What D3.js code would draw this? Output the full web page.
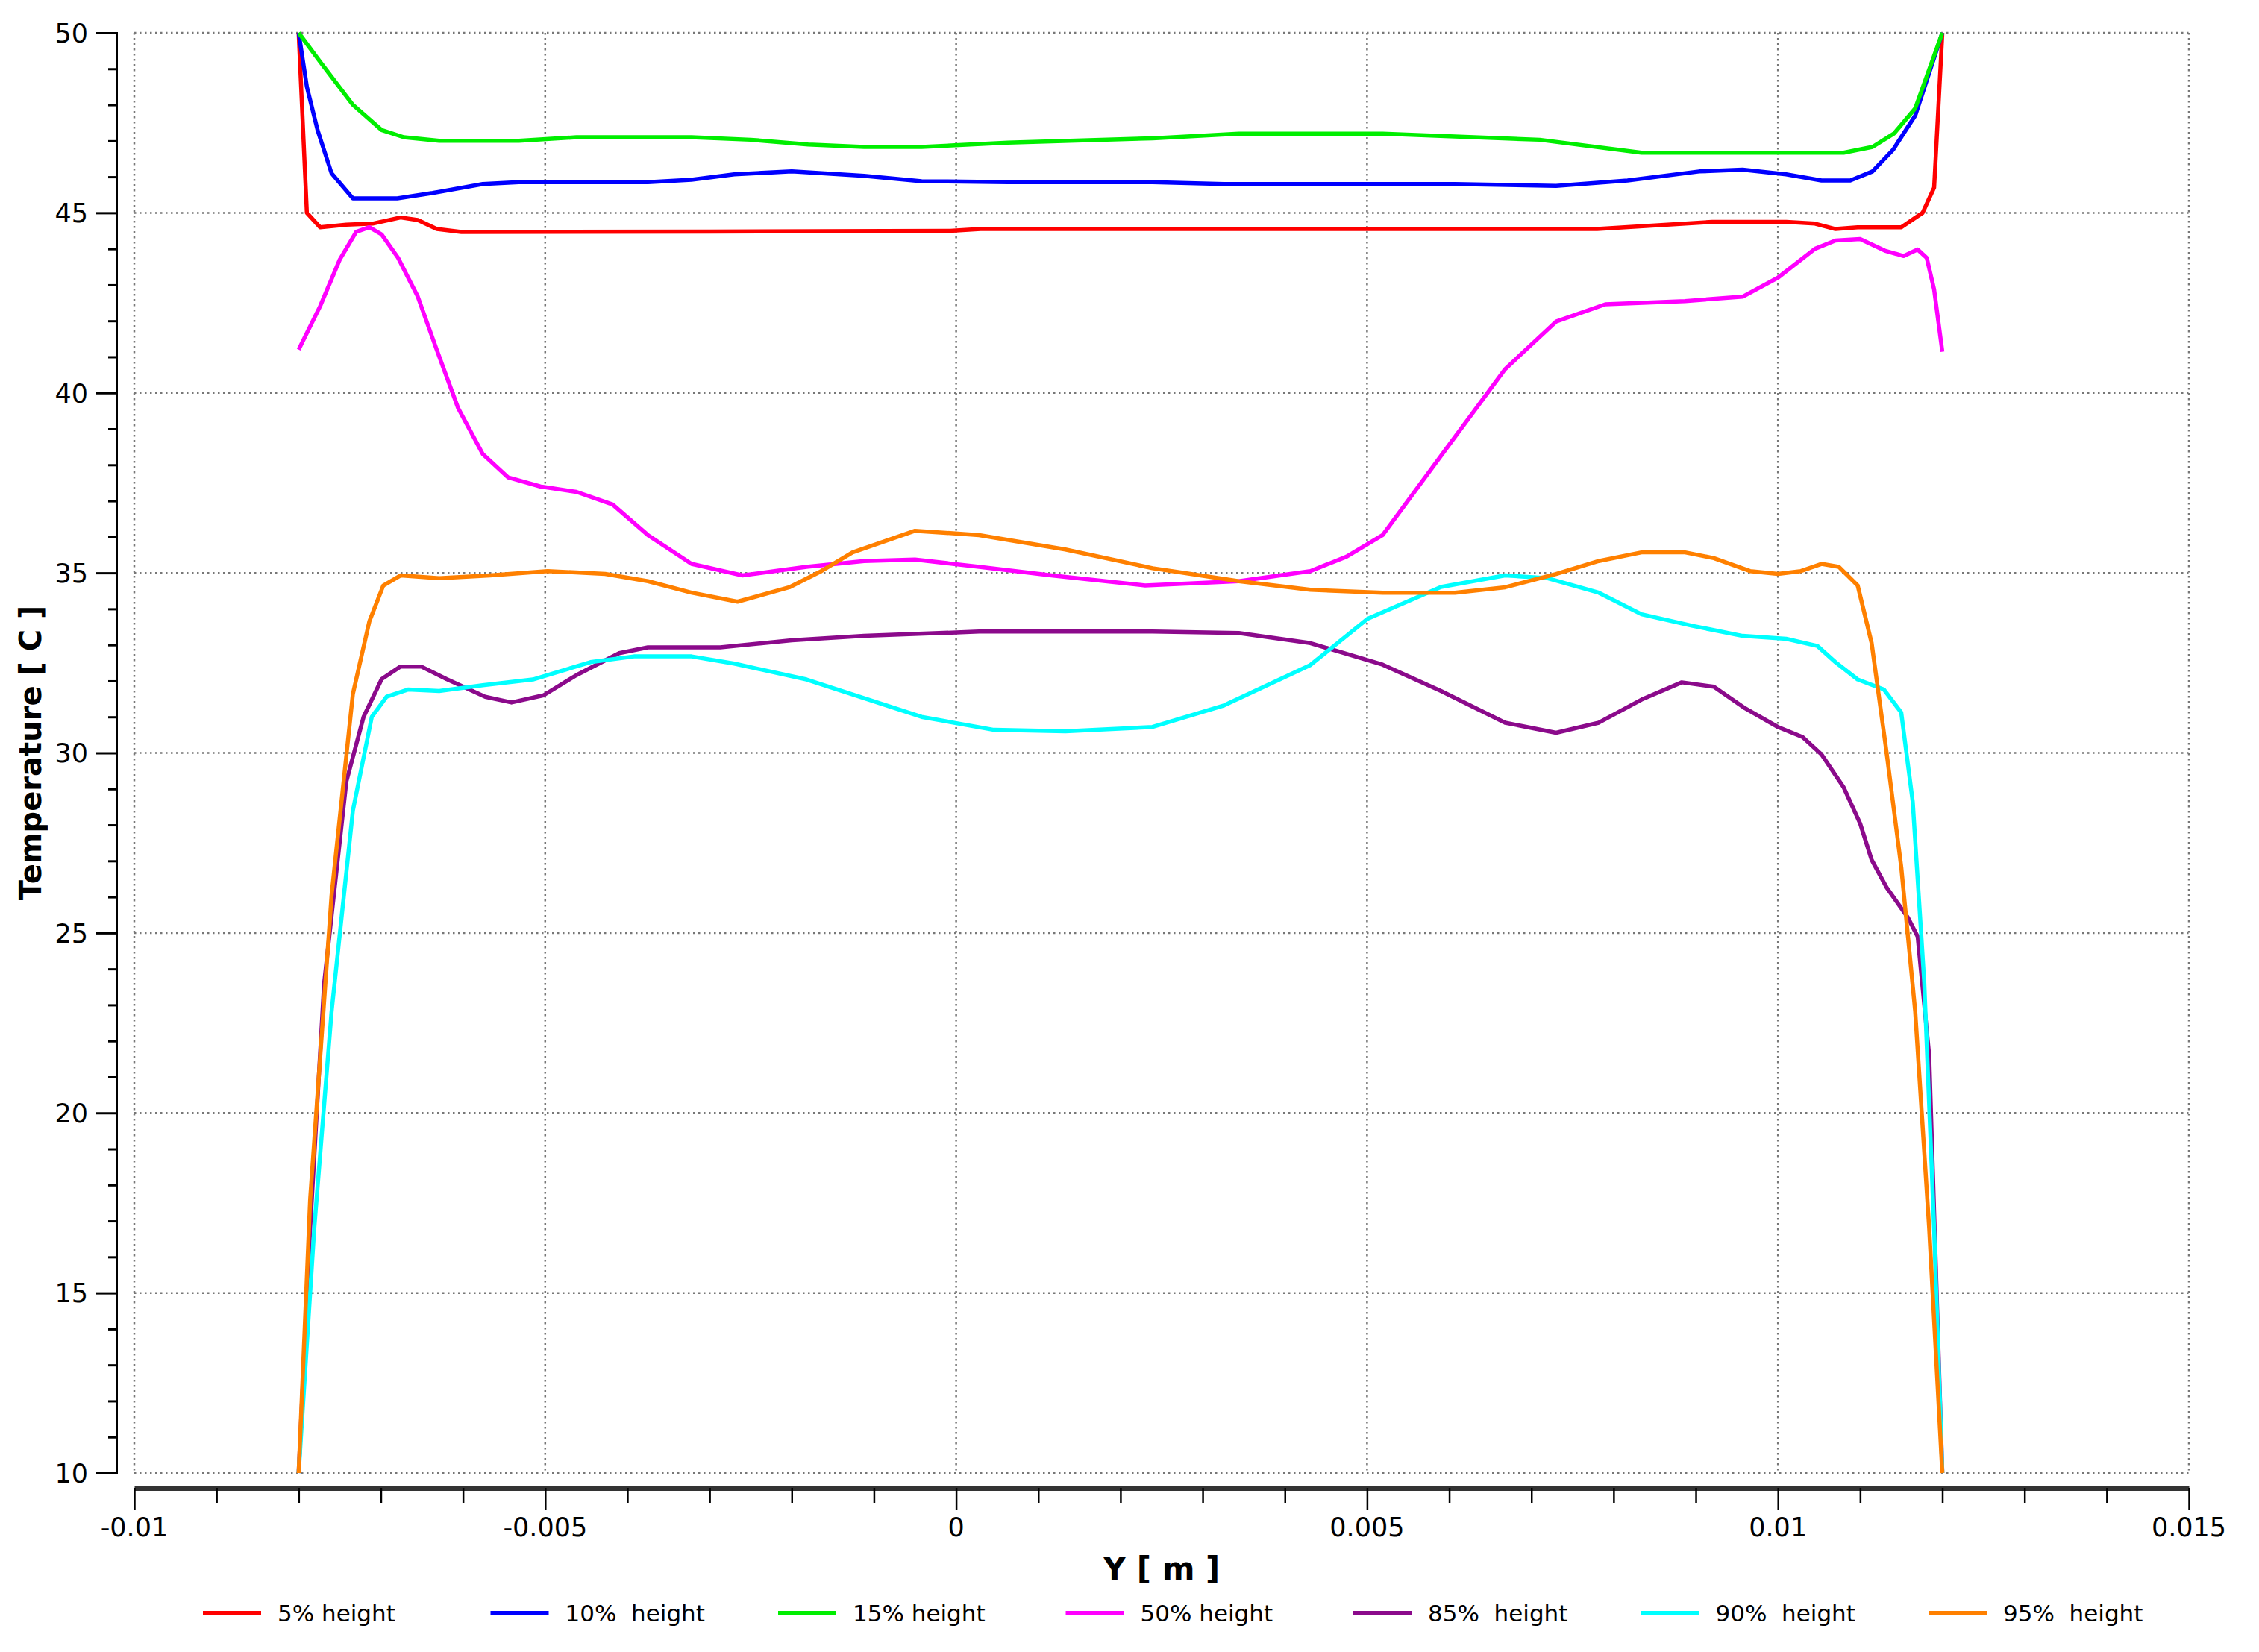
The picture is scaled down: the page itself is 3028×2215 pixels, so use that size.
<!DOCTYPE html>
<html>
<head>
<meta charset="utf-8">
<script src="https://cdn.jsdelivr.net/npm/d3@7"></script>
<style>
  body { margin: 0; background: #fff; }
  text { font-family: "DejaVu Sans", sans-serif; }
</style>
</head>
<body>
<div class="chart"></div>
<script>
// x values in mm (converted to m below), temperature in C
var red = [[-8,50],[-7.9,45.0],[-7.74,44.6],[-7.42,44.67],[-7.1,44.7],[-6.76,44.87],[-6.55,44.8],[-6.32,44.55],[-6.02,44.47],[-3,44.48],[-0.07,44.5],[0.3,44.55],[4,44.55],[7.8,44.55],[9.2,44.75],[10.1,44.75],[10.45,44.7],[10.7,44.55],[10.97,44.6],[11.5,44.6],[11.76,45.0],[11.9,45.7],[12,50]];
var blue = [[-8,50],[-7.9,48.5],[-7.77,47.3],[-7.6,46.1],[-7.34,45.4],[-6.8,45.4],[-6.37,45.55],[-5.76,45.8],[-5.32,45.85],[-3.75,45.85],[-3.22,45.92],[-2.7,46.07],[-2.0,46.15],[-1.12,46.03],[-0.42,45.88],[0.63,45.85],[2.39,45.85],[3.26,45.8],[6.07,45.8],[7.3,45.75],[8.17,45.9],[9.04,46.15],[9.57,46.2],[10.1,46.07],[10.53,45.9],[10.88,45.9],[11.15,46.15],[11.4,46.75],[11.67,47.7],[12,50]];
var green = [[-8,50],[-7.74,49.2],[-7.34,48.0],[-6.99,47.3],[-6.72,47.1],[-6.29,47.0],[-5.32,47.0],[-4.62,47.1],[-3.22,47.1],[-2.5,47.03],[-1.8,46.9],[-1.12,46.83],[-0.42,46.83],[0.63,46.95],[2.39,47.07],[3.44,47.2],[5.19,47.2],[7.1,47.03],[8.34,46.67],[10.8,46.67],[11.15,46.83],[11.41,47.2],[11.67,47.9],[12,50]];
var magenta = [[-8,41.2],[-7.74,42.4],[-7.5,43.7],[-7.3,44.47],[-7.14,44.6],[-6.99,44.4],[-6.79,43.75],[-6.55,42.67],[-6.32,41.2],[-6.06,39.58],[-5.76,38.3],[-5.45,37.65],[-5.06,37.4],[-4.62,37.25],[-4.18,36.9],[-3.75,36.05],[-3.22,35.25],[-2.6,34.93],[-1.82,35.17],[-1.12,35.33],[-0.5,35.37],[0.28,35.17],[1.16,34.93],[2.3,34.65],[3.44,34.77],[4.31,35.05],[4.75,35.45],[5.19,36.05],[5.9,38.25],[6.68,40.66],[7.3,41.98],[7.9,42.46],[8.87,42.55],[9.57,42.67],[10.0,43.2],[10.45,44.0],[10.7,44.23],[11.0,44.27],[11.3,43.95],[11.53,43.8],[11.7,43.98],[11.81,43.75],[11.9,42.87],[12,41.14]];
var purple = [[-8,10],[-7.86,16.8],[-7.69,23.6],[-7.42,29.2],[-7.21,31.0],[-6.99,32.05],[-6.76,32.4],[-6.51,32.4],[-6.2,32.05],[-5.73,31.56],[-5.41,31.4],[-5.02,31.6],[-4.62,32.16],[-4.1,32.77],[-3.75,32.93],[-2.87,32.93],[-2.0,33.13],[-1.12,33.25],[0.28,33.37],[2.39,33.37],[3.44,33.33],[4.31,33.05],[5.19,32.45],[5.9,31.72],[6.68,30.84],[7.3,30.56],[7.82,30.84],[8.34,31.48],[8.83,31.96],[9.22,31.84],[9.6,31.24],[10.0,30.72],[10.3,30.44],[10.53,29.96],[10.8,29.04],[11.0,28.04],[11.14,27.03],[11.32,26.27],[11.58,25.43],[11.7,24.9],[11.84,21.6],[12,10]];
var cyan = [[-8,10],[-7.81,16.8],[-7.6,22.8],[-7.34,28.4],[-7.11,31.0],[-6.93,31.56],[-6.67,31.76],[-6.29,31.72],[-5.76,31.88],[-5.15,32.04],[-4.45,32.52],[-3.92,32.68],[-3.22,32.68],[-2.7,32.48],[-1.82,32.04],[-1.12,31.52],[-0.42,31.0],[0.46,30.64],[1.33,30.6],[2.39,30.72],[3.26,31.32],[4.31,32.44],[5.01,33.73],[5.9,34.61],[6.68,34.93],[7.2,34.85],[7.82,34.45],[8.34,33.85],[8.96,33.53],[9.57,33.25],[10.1,33.17],[10.48,32.97],[10.7,32.52],[10.97,32.04],[11.29,31.76],[11.5,31.12],[11.64,28.64],[11.78,23.63],[11.9,16.8],[12,10]];
var orange = [[-8,10],[-7.86,17.6],[-7.6,26.03],[-7.34,31.64],[-7.14,33.65],[-6.97,34.65],[-6.76,34.93],[-6.29,34.85],[-5.67,34.93],[-4.97,35.05],[-4.27,34.97],[-3.75,34.77],[-3.22,34.45],[-2.66,34.2],[-2.03,34.6],[-1.64,35.05],[-1.26,35.57],[-0.5,36.17],[0.28,36.05],[1.33,35.65],[2.39,35.13],[3.44,34.77],[4.31,34.53],[5.19,34.45],[6.07,34.45],[6.68,34.6],[7.3,34.97],[7.82,35.33],[8.34,35.57],[8.87,35.57],[9.22,35.41],[9.66,35.05],[10.0,34.97],[10.28,35.05],[10.53,35.25],[10.74,35.17],[10.97,34.65],[11.14,33.05],[11.32,30.04],[11.5,26.83],[11.67,22.82],[11.84,16.8],[12,10]];

var names = ["5% height", "10%  height", "15% height", "50% height", "85%  height", "90%  height", "95%  height"];
var colors = ["#ff0000", "#0000ff", "#00ee00", "#ff00ff", "#8b0a8b", "#00ffff", "#ff8000"];
var series = [red, blue, green, magenta, purple, cyan, orange];
var xTicks = [-0.01, -0.005, 0, 0.005, 0.01, 0.015];
var xLabels = ["-0.01", "-0.005", "0", "0.005", "0.01", "0.015"];
var yTicks = [10, 15, 20, 25, 30, 35, 40, 45, 50];

var W = 3028, H = 2215;
var L = 180, R = 2934, T = 44, B = 1975;

var svg = d3.select(".chart").append("svg")
    .attr("width", W)
    .attr("height", H)

var x = d3.scaleLinear().domain([-0.01, 0.015]).range([L, R]);
var y = d3.scaleLinear().domain([10, 50]).range([B, T]);

// grid
svg.append("g").selectAll("line").data(xTicks).enter().append("line")
    .attr("x1", d => x(d)).attr("x2", d => x(d))
    .attr("y1", T).attr("y2", B)
    .attr("stroke", "#777").attr("stroke-width", 2.5).attr("stroke-dasharray", "2.5,4.5")
svg.append("g").selectAll("line").data(yTicks).enter().append("line")
    .attr("x1", L).attr("x2", R)
    .attr("y1", d => y(d)).attr("y2", d => y(d))
    .attr("stroke", "#777").attr("stroke-width", 2.5).attr("stroke-dasharray", "2.5,4.5")

// y axis
var yAxis = svg.append("g").attr("transform", "translate(156,0)")
    .call(d3.axisLeft(y).tickValues(d3.range(10, 50.5, 1)).tickSize(11).tickFormat(""))
yAxis.select(".domain").attr("stroke-width", 3)
yAxis.selectAll(".tick line").attr("stroke-width", 3)
yAxis.selectAll(".tick").filter(d => d % 5 === 0).select("line").attr("x2", -27)
yAxis.selectAll(".tick").filter(d => d % 5 === 0).append("text")
    .attr("x", -38).attr("dy", "0.35em").attr("text-anchor", "end")
    .attr("fill", "#000").style("font-size", "35px").text(d => d)

// x axis
var xAxis = svg.append("g").attr("transform", "translate(0,1995)")
    .call(d3.axisBottom(x).tickValues(d3.range(-10, 15.5, 1).map(d => d / 1000)).tickSize(20).tickFormat("").tickSizeOuter(0))
xAxis.select(".domain").attr("stroke-width", 7).attr("stroke", "#333")
xAxis.selectAll(".tick line").attr("stroke-width", 2.5)
xAxis.selectAll(".tick").filter(d => Math.abs(Math.round(d * 1000)) % 5 === 0).select("line").attr("y2", 30)
svg.append("g").selectAll("text").data(xTicks).enter().append("text")
    .attr("x", d => x(d)).attr("y", 2060).attr("text-anchor", "middle")
    .style("font-size", "35px").text((d, i) => xLabels[i])

// titles
svg.append("text").attr("x", (L + R) / 2).attr("y", 2118).attr("text-anchor", "middle")
    .style("font-size", "42px").style("font-weight", "bold").text("Y [ m ]")
svg.append("text").attr("transform", "translate(55," + (T + B) / 2 + ") rotate(-90)")
    .attr("text-anchor", "middle")
    .style("font-size", "40px").style("font-weight", "bold").text("Temperature [ C ]")

// lines
var line = d3.line().x(d => x(d[0] / 1000)).y(d => y(d[1]));
svg.append("g").selectAll("path").data(series).enter().append("path")
    .attr("d", line)
    .attr("fill", "none")
    .attr("stroke", (d, i) => colors[i])
    .attr("stroke-width", 5.5)
    .attr("stroke-linejoin", "round")

// legend
var lg = svg.append("g").selectAll("g").data(names).enter().append("g")
    .attr("transform", (d, i) => "translate(" + (272 + i * 385.5) + ",2163)")
lg.append("line").attr("x1", 0).attr("x2", 78).attr("y1", 0).attr("y2", 0)
    .attr("stroke", (d, i) => colors[i]).attr("stroke-width", 6)
lg.append("text").attr("x", 100).attr("dy", "0.35em")
    .style("font-size", "31px").style("white-space", "pre").text(d => d)
</script>
</body>
</html>
